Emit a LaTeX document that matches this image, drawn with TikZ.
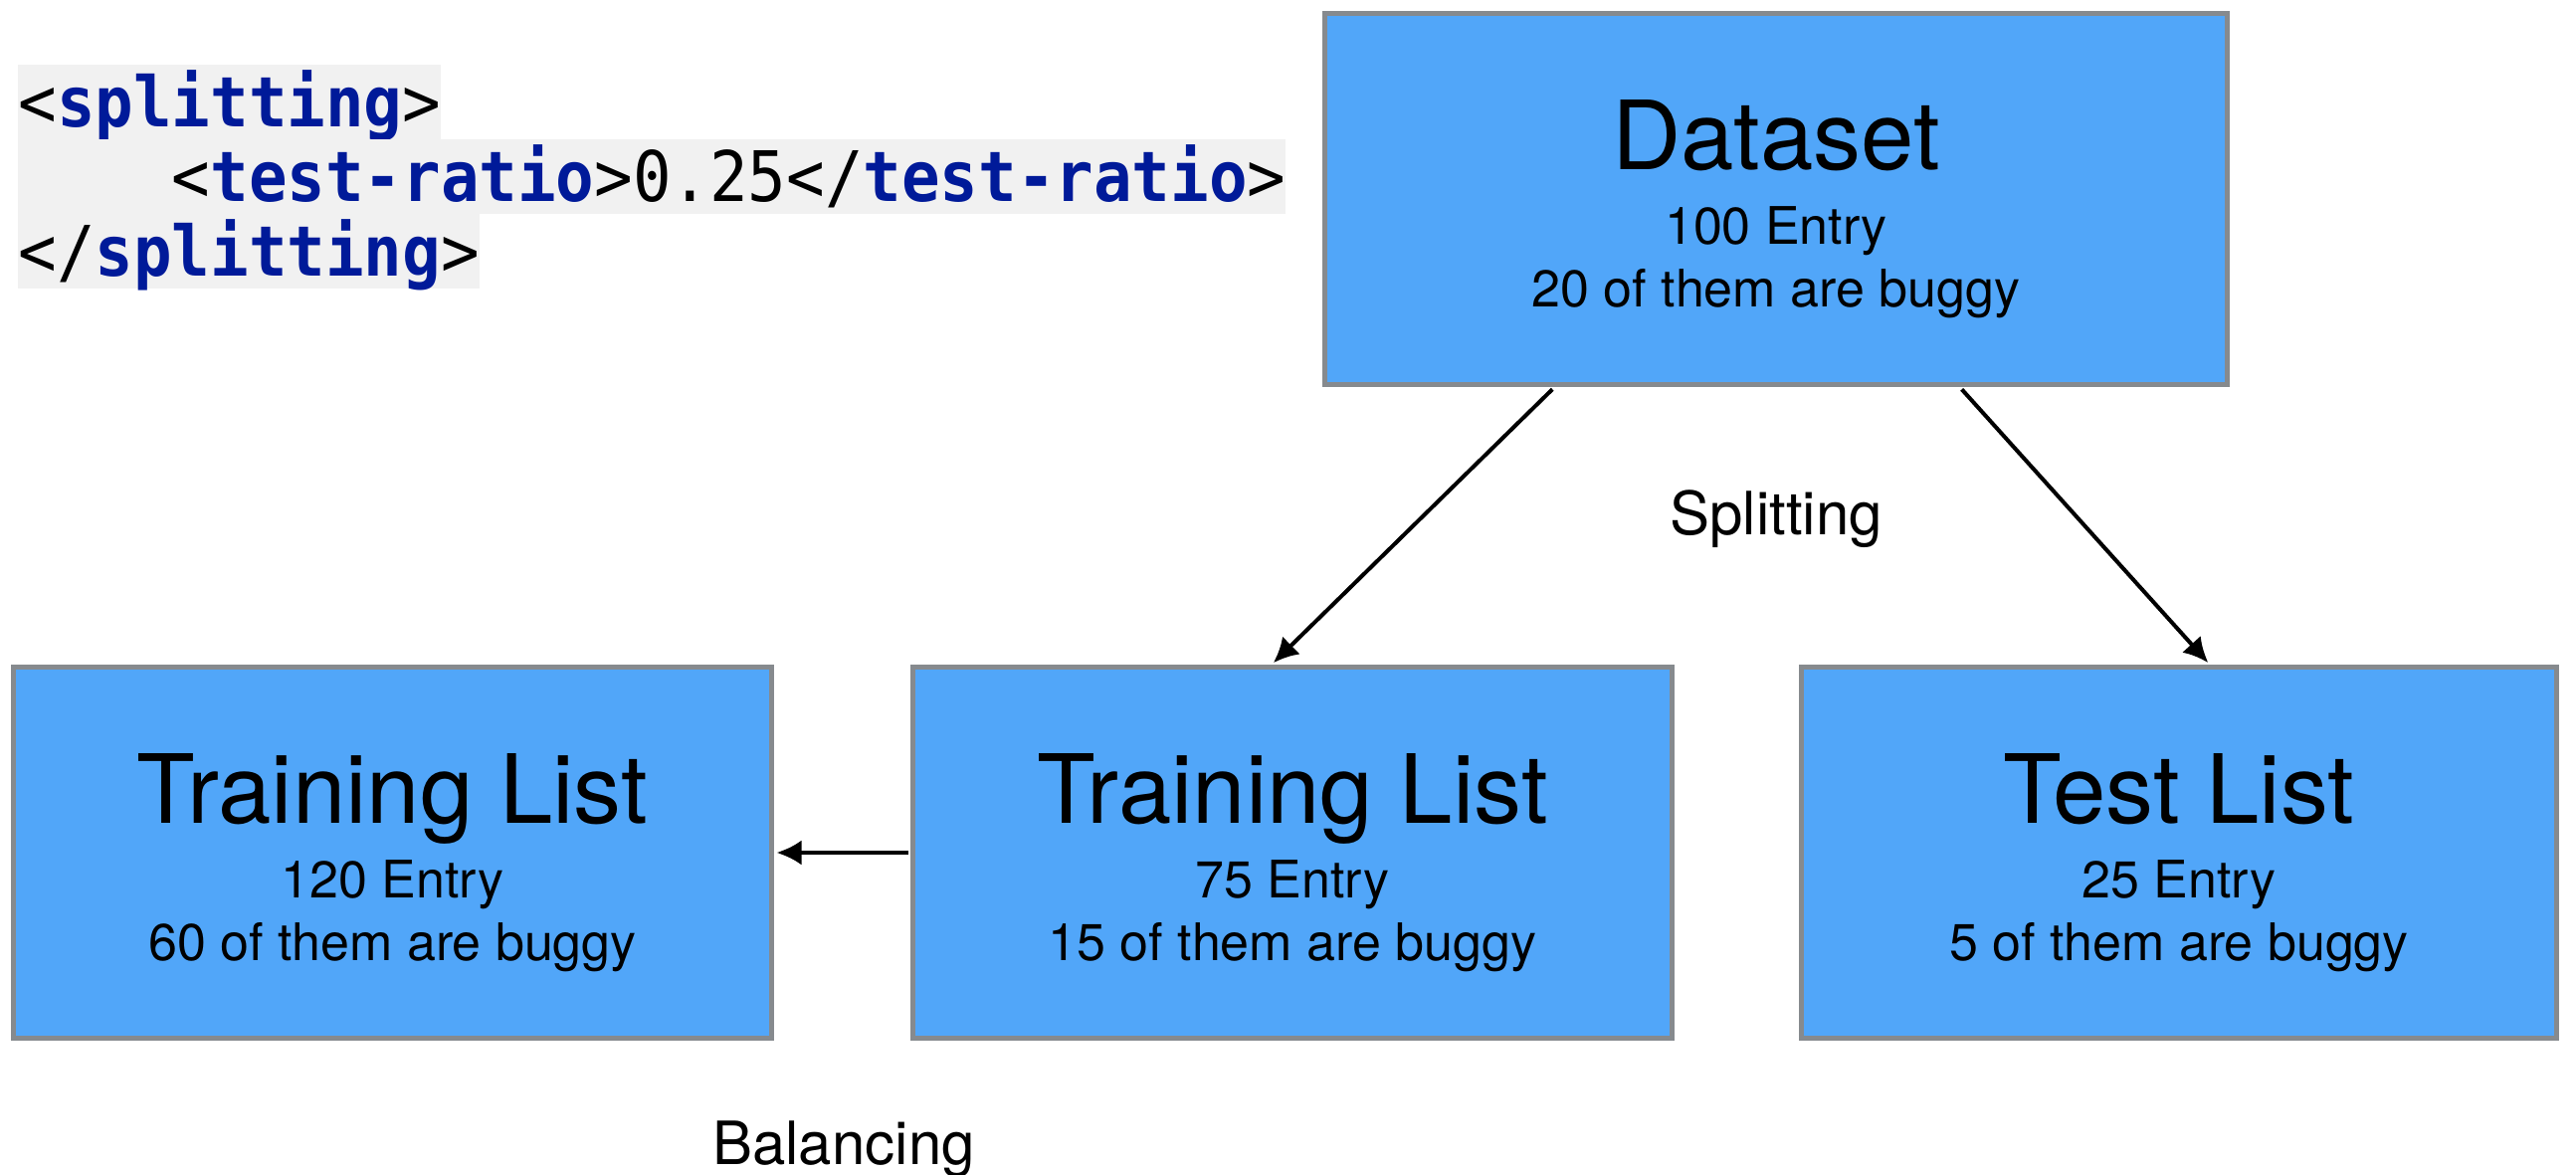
\documentclass[tikz,border=0pt]{standalone}
\usepackage{fontspec}
\setmainfont{TeX Gyre Heros}
\newfontfamily\codefont{DejaVu Sans Mono}[FakeStretch=0.916]
\usetikzlibrary{arrows.meta,calc}
\definecolor{boxfill}{RGB}{81,166,249}
\definecolor{boxline}{RGB}{134,138,142}
\definecolor{tagblue}{RGB}{0,26,153}
\definecolor{codebg}{RGB}{241,241,241}
\newcommand\xmltag[1]{\textcolor{tagblue}{\textbf{#1}}}
\begin{document}
\begin{tikzpicture}[x=0.5pt,y=-0.5pt,
  box/.style={draw=boxline, fill=boxfill, line width=2.5pt, minimum height=186.5pt, inner sep=0pt},
  ttl/.style={anchor=base, inner sep=0pt, font=\fontsize{48}{50}\selectfont},
  sub/.style={anchor=base, inner sep=0pt, font=\fontsize{26}{28}\selectfont},
  lbl/.style={anchor=base, inner sep=0pt, font=\fontsize{30}{32}\selectfont},
  codeline/.style={anchor=base west, inner sep=0pt, fill=codebg, text height=31.5pt, text depth=6.25pt, font=\codefont\fontsize{35}{37}\selectfont},
  conn/.style={line width=2pt, -{Latex[length=12.5pt,width=12.5pt]}, shorten >=1.25pt, shorten <=1.25pt}
]
\useasboundingbox (0,0) rectangle (2589,1181);
% code snippet
\node[codeline] (c1) at (18,128) {<\xmltag{splitting}>};
\node[codeline] (c2) at (18,203) {\phantom{xxxx}<\xmltag{test-ratio}>0.25</\xmltag{test-ratio}>};
\node[codeline] (c3) at (18,278) {</\xmltag{splitting}>};
% boxes
\node[box, minimum width=453.5pt] (D) at (1785,200.5) {};
\node[box, minimum width=381pt] (L) at (394.5,857) {};
\node[box, minimum width=381.5pt] (M) at (1299,857) {};
\node[box, minimum width=379.5pt] (T) at (2190,857) {};
% box texts
\node[ttl] (dT) at ($(D.north)+(0,159)$) {Dataset};
\node[sub] (d1) at ($(D.north)+(0,234)$) {100 Entry};
\node[sub] (d2) at ($(D.north)+(0,297)$) {20 of them are buggy};
\node[ttl] (lT) at ($(L.north)+(0,159)$) {Training List};
\node[sub] (l1) at ($(L.north)+(0,234)$) {120 Entry};
\node[sub] (l2) at ($(L.north)+(0,297)$) {60 of them are buggy};
\node[ttl] (mT) at ($(M.north)+(0,159)$) {Training List};
\node[sub] (m1) at ($(M.north)+(0,234)$) {75 Entry};
\node[sub] (m2) at ($(M.north)+(0,297)$) {15 of them are buggy};
\node[ttl] (tT) at ($(T.north)+(0,159)$) {Test List};
\node[sub] (t1) at ($(T.north)+(0,234)$) {25 Entry};
\node[sub] (t2) at ($(T.north)+(0,297)$) {5 of them are buggy};
% connectors
\draw[conn] ([xshift=-111.5pt]D.south) -- ([xshift=-10.5pt]M.north);
\draw[conn] ([xshift=92.5pt]D.south) -- ([xshift=15.5pt]T.north);
\draw[conn] (M.west) -- (L.east);
% labels
\node[lbl] (split) at (1785,538) {Splitting};
\node[lbl] (bal) at (848,1170) {Balancing};
\end{tikzpicture}
\end{document}
